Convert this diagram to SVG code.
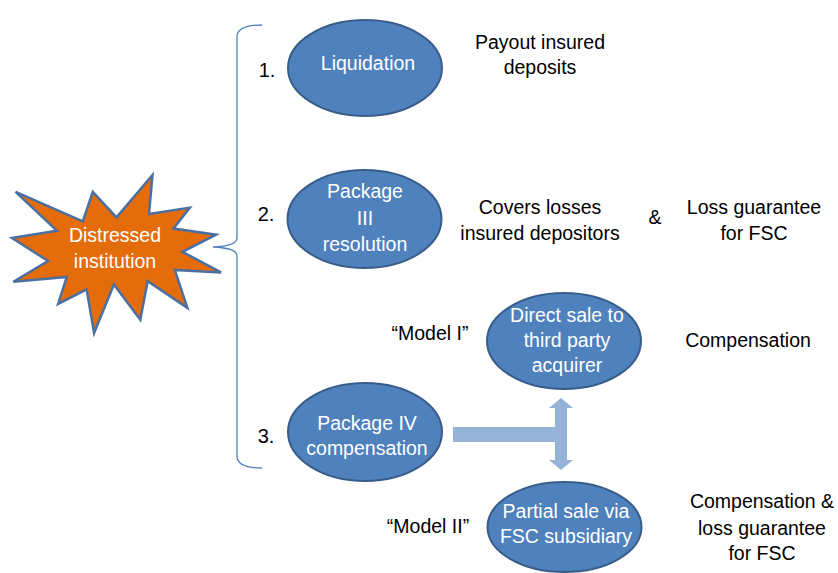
<svg xmlns="http://www.w3.org/2000/svg" width="838" height="573" viewBox="0 0 838 573">
<style>
.t{font-family:"Liberation Sans",Arial,sans-serif;font-size:19.5px;fill:#000;text-anchor:middle}
.w{font-family:"Liberation Sans",Arial,sans-serif;font-size:19.5px;fill:#fff;text-anchor:middle}
.n{font-family:"Liberation Sans",Arial,sans-serif;font-size:20px;fill:#000;text-anchor:middle}
.e{fill:#4F81BD;stroke:#385D8A;stroke-width:2}
</style>
<rect width="838" height="573" fill="#fff"/>
<g id="distressed">
<polygon points="116.5,217.4 152.5,175 149,214 189.8,207.6 173.5,228.6 216.1,234.7 182.4,251.8 221,272.4 174.8,269.9 187.4,307.8 147.7,281.1 140.3,319.8 113.9,284.6 94.1,333 86.6,289.3 58.1,303.9 66.8,276.9 13.3,281.7 48,261 12,238 56.8,230.7 15.6,191.8 82.8,221.4 92.8,191.8" fill="#E46C0A" stroke="#4A6FA0" stroke-width="2.5" stroke-linejoin="miter"/>
<text class="w" x="115" y="242">Distressed</text>
<text class="w" x="115" y="268">institution</text>
</g>
<g id="connectors">
<path d="M262,25 Q237,25 237,37 L237,238 Q237,246 213,247 Q237,248 237,256 L237,456 Q237,468 262,468" fill="none" stroke="#4F81BD" stroke-width="1.3"/>
<path d="M453,427 L555,427 L555,408 L549,408 L561,398 L573,408 L567,408 L567,460 L573,460 L561,470 L549,460 L555,460 L555,442 L453,442 Z" fill="#95B3D7"/>
</g>
<g id="liquidation">
<ellipse class="e" cx="365" cy="68" rx="77" ry="48"/>
<text class="w" x="368" y="70">Liquidation</text>
</g>
<g id="package3">
<ellipse class="e" cx="364.5" cy="219" rx="77" ry="49"/>
<text class="w" x="365" y="198">Package</text>
<text class="w" x="365" y="225">III</text>
<text class="w" x="365" y="251">resolution</text>
</g>
<g id="package4">
<ellipse class="e" cx="365" cy="432" rx="77" ry="49"/>
<text class="w" x="367" y="430">Package IV</text>
<text class="w" x="367" y="455">compensation</text>
</g>
<g id="directsale">
<ellipse class="e" cx="564" cy="341" rx="77" ry="48"/>
<text class="w" x="567" y="322">Direct sale to</text>
<text class="w" x="567" y="347">third party</text>
<text class="w" x="567" y="372">acquirer</text>
</g>
<g id="partialsale">
<ellipse class="e" cx="564.5" cy="527" rx="77" ry="45"/>
<text class="w" x="566" y="518">Partial sale via</text>
<text class="w" x="566" y="543">FSC subsidiary</text>
</g>
<g id="labels">
<text class="n" x="267" y="77">1.</text>
<text class="n" x="266" y="221">2.</text>
<text class="n" x="266" y="443">3.</text>
<text class="t" x="540" y="49">Payout insured</text>
<text class="t" x="540" y="74">deposits</text>
<text class="t" x="540" y="214">Covers losses</text>
<text class="t" x="540" y="240">insured depositors</text>
<text class="t" x="655" y="224">&amp;</text>
<text class="t" x="754" y="214">Loss guarantee</text>
<text class="t" x="754" y="240">for FSC</text>
<text class="t" x="430" y="340">“Model I”</text>
<text class="t" x="748" y="347">Compensation</text>
<text class="t" x="428" y="533">“Model II”</text>
<text class="t" x="762" y="508">Compensation &amp;</text>
<text class="t" x="762" y="535">loss guarantee</text>
<text class="t" x="762" y="560">for FSC</text>
</g>
</svg>
